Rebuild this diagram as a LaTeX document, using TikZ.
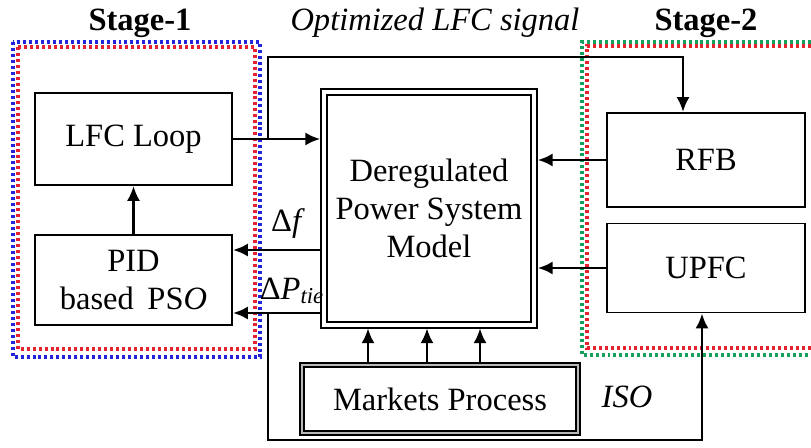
\documentclass[tikz,border=0pt]{standalone}
\usepackage{fontspec}
\setmainfont{Liberation Serif}
\definecolor{stageblue}{HTML}{2323D8}
\definecolor{stagered}{HTML}{E3232E}
\definecolor{stagegreen}{HTML}{14A05A}
\usetikzlibrary{arrows.meta,positioning,calc}
\tikzset{
  blk_box/.style={draw=black,line width=1.1pt,fill=white,align=center,
    font=\fontsize{18.5}{19}\selectfont},
  blk_double/.style={draw=black,line width=1.1pt,double=white,double distance=2.4pt,
    fill=white,align=center,font=\fontsize{18.5}{21.5}\selectfont,outer sep=2pt},
  blk_market/.style={draw=black,line width=1.3pt,double=gray!55,double distance=1.2pt,
    fill=white,align=center,font=\fontsize{18.5}{19}\selectfont,outer sep=1.9pt},
  stage_lbl/.style={font=\fontsize{18.5}{19}\selectfont\bfseries},
  sig_lbl/.style={font=\fontsize{18.5}{19}\selectfont\itshape},
  dotline/.style={line width=2.1pt,dash pattern=on 1.7pt off 1.7pt},
  arr/.style={-{Latex[length=8.5pt,width=7.5pt]},draw=black,line width=1.6pt},
}
\begin{document}
\begin{tikzpicture}[x=0.02cm,y=-0.02cm]
    \useasboundingbox (0,0) rectangle (811,448);
    % stage frames
    \draw[dotline,stageblue] (13,42) rectangle (260,357);
    \draw[dotline,stagered] (18,47) rectangle (255,349);
    \draw[dotline,stagegreen] (811,42) -| (582,355) -- (811,355);
    \draw[dotline,stagered] (811,46) -| (587,348) -- (811,348);
    \node[stage_lbl] (s1) at (140,23) {Stage-1};
    \node[stage_lbl] (s2) at (706,23) {Stage-2};
    \node[sig_lbl] (opt) at (435,23) {Optimized LFC signal};
    % blocks
    \node[blk_box,minimum width=3.94cm,minimum height=1.84cm] (lfc) at (133.5,139) {LFC Loop};
    \node[blk_box,minimum width=3.94cm,minimum height=1.80cm,
      font=\fontsize{18.5}{22}\selectfont] (pid) at (133.5,280) {PID\\based\, PS\textit{O}};
    \node[blk_double,minimum width=4.21cm,minimum height=4.65cm] (dpsm) at (429,208.5)
      {Deregulated\\Power System\\Model};
    \node[blk_box,minimum width=3.96cm,minimum height=1.88cm] (rfb) at (706,160) {RFB};
    \node[blk_box,minimum width=3.96cm,minimum height=1.78cm] (upfc) at (706,268) {UPFC};
    \node[blk_market,minimum width=5.52cm,minimum height=1.36cm] (mp) at (440,399) {Markets Process};
    \node[sig_lbl] (iso) at (627,397) {ISO};
    \node[font=\fontsize{18.5}{19}\selectfont] (dflbl) at (288,224) {Δ\textit{f}};
    \node[font=\fontsize{18.5}{19}\selectfont] (dplbl) at (292,291) {Δ\textit{P}\textsubscript{\textit{tie}}};
    % connectors
    \coordinate (tap1) at (268,139);
    \coordinate (turn1) at (683,57);
    \coordinate (df) at (0,250);
    \coordinate (dp) at (0,313);
    \coordinate (tap2) at (268,313);
    \coordinate (turn2) at (702,440);
    \draw[arr] (lfc.east) -- (lfc.east -| dpsm.west);
    \draw[arr] (tap1) |- (turn1) -- (turn1 |- rfb.north);
    \draw[arr] (rfb.west) -- (rfb.west -| dpsm.east);
    \draw[arr] (upfc.west) -- (upfc.west -| dpsm.east);
    \draw[arr] (df -| dpsm.west) -- (df -| pid.east);
    \draw[arr] (dp -| dpsm.west) -- (dp -| pid.east);
    \draw[arr] (tap2) |- (turn2) -- (turn2 |- upfc.south);
    \draw[arr] (pid.north) -- (lfc.south);
    \foreach \x in {368,427,480}
      \draw[arr] (mp.north -| \x,0) -- (dpsm.south -| \x,0);
  \end{tikzpicture}
\end{document}
